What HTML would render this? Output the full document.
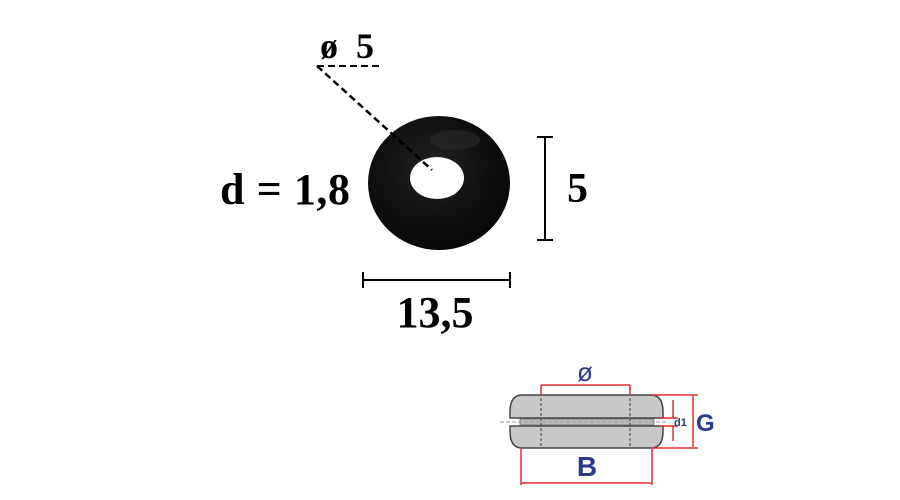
<!DOCTYPE html>
<html><head><style>body{margin:0;background:#fff}svg{display:block}</style></head><body>
<svg width="900" height="500" viewBox="0 0 900 500" xmlns="http://www.w3.org/2000/svg">
<defs>
<radialGradient id="rg" cx="0.45" cy="0.4" r="0.6">
<stop offset="0" stop-color="#222"/><stop offset="0.6" stop-color="#111"/><stop offset="1" stop-color="#080808"/>
</radialGradient>
</defs>
<ellipse cx="439" cy="183" rx="71" ry="67" fill="url(#rg)"/>
<ellipse cx="455" cy="140" rx="25" ry="10" fill="#2a2a2a" opacity="0.6"/>
<ellipse cx="437" cy="178" rx="27" ry="21" fill="#fff"/>
<line x1="317" y1="66" x2="432" y2="170" stroke="#000" stroke-width="2.5" stroke-dasharray="7,4"/>
<line x1="317" y1="66" x2="383" y2="66" stroke="#000" stroke-width="2" stroke-dasharray="7,4"/>
<text x="320" y="58" font-family="Liberation Serif, serif" font-weight="bold" font-size="36" xml:space="preserve">ø  5</text>
<text x="220" y="204" font-family="Liberation Serif, serif" font-weight="bold" font-size="44" textLength="130">d = 1,8</text>
<g stroke="#000" stroke-width="2">
<line x1="545" y1="137" x2="545" y2="240"/><line x1="537" y1="137" x2="553" y2="137"/><line x1="537" y1="240" x2="553" y2="240"/>
<line x1="363" y1="280" x2="510" y2="280"/><line x1="363" y1="272" x2="363" y2="288"/><line x1="510" y1="272" x2="510" y2="288"/>
</g>
<text x="567" y="202" font-family="Liberation Serif, serif" font-weight="bold" font-size="42">5</text>
<text x="435" y="327" text-anchor="middle" font-family="Liberation Serif, serif" font-weight="bold" font-size="44">13,5</text>
<path d="M522 395 H651 Q663 395 663 412 V418 H510 V412 Q510 395 522 395 Z" fill="#c8c8c8" stroke="#444" stroke-width="1.5"/>
<path d="M510 426 V431 Q510 448 522 448 H651 Q663 448 663 431 V426 Z" fill="#c8c8c8" stroke="#444" stroke-width="1.5"/>
<rect x="520" y="419" width="134" height="6" fill="#bbb" stroke="#666" stroke-width="0.8"/>
<line x1="500" y1="422" x2="668" y2="422" stroke="#999" stroke-dasharray="4,2"/>
<g stroke="#555" stroke-dasharray="3,2" stroke-width="1.2"><line x1="541" y1="388" x2="541" y2="448"/><line x1="630" y1="388" x2="630" y2="448"/></g>
<g stroke="#e03030" stroke-width="1.5" fill="none">
<line x1="541" y1="385" x2="630" y2="385"/><line x1="541" y1="385" x2="541" y2="395"/><line x1="630" y1="385" x2="630" y2="395"/>
<line x1="651" y1="395" x2="698" y2="395"/><line x1="651" y1="448" x2="698" y2="448"/>
<line x1="693" y1="396" x2="693" y2="447"/>
<line x1="673" y1="400" x2="673" y2="418"/><line x1="673" y1="426" x2="673" y2="441"/><line x1="660" y1="426" x2="678" y2="426"/><line x1="660" y1="418" x2="678" y2="418"/>
<line x1="521" y1="448" x2="521" y2="485"/><line x1="652" y1="448" x2="652" y2="485"/>
<line x1="521" y1="483" x2="652" y2="483"/>
</g>
<text x="585" y="381" text-anchor="middle" font-family="Liberation Sans, sans-serif" font-size="26" fill="#2a3a8a">ø</text>
<text x="674" y="426" font-family="Liberation Sans, sans-serif" font-weight="bold" font-size="11" fill="#2a3a8a">d1</text>
<text x="696" y="431" font-family="Liberation Sans, sans-serif" font-weight="bold" font-size="24" fill="#2a3a8a">G</text>
<text x="587" y="476" text-anchor="middle" font-family="Liberation Sans, sans-serif" font-weight="bold" font-size="28" fill="#2a3a8a">B</text>
</svg>
</body></html>
